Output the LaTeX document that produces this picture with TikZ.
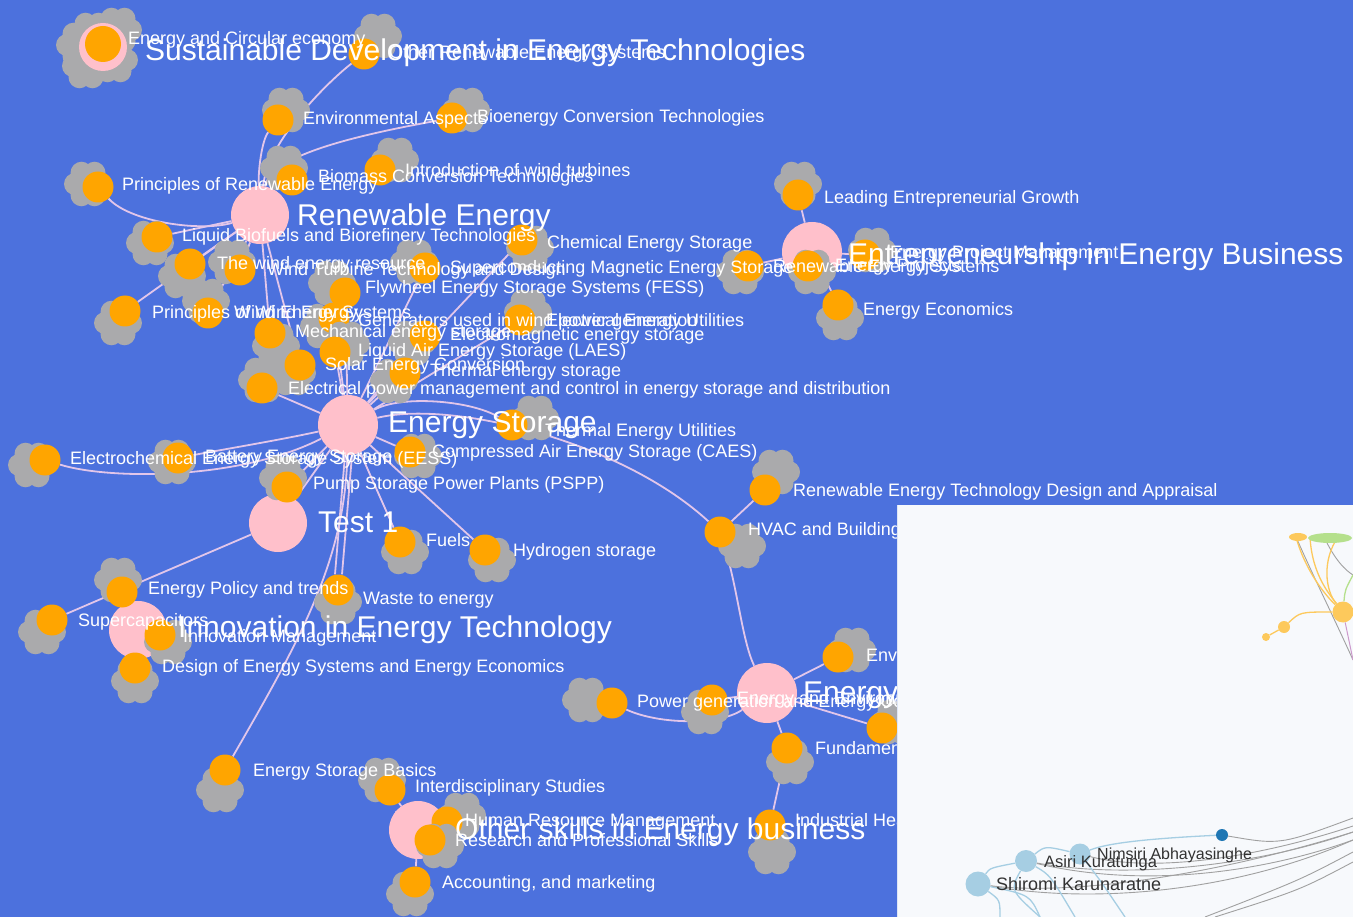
\documentclass[tikz,border=0pt]{standalone}
\usepackage{fontspec}
\setmainfont{Liberation Sans}
\usetikzlibrary{calc}
\pgfdeclarelayer{edges}
\pgfdeclarelayer{labels}
\pgfdeclarelayer{inset}
\pgfsetlayers{edges,main,labels,inset}

\definecolor{bgblue}{RGB}{76,113,221}
\definecolor{hubpink}{RGB}{255,192,203}
\definecolor{leaforange}{RGB}{255,165,0}
\definecolor{cloudgray}{RGB}{170,170,172}
\definecolor{edgecol}{RGB}{226,198,234}
\definecolor{panelbg}{RGB}{247,249,252}
\definecolor{panelline}{RGB}{222,230,246}
\definecolor{softyellow}{RGB}{253,201,92}
\definecolor{softgreen}{RGB}{181,224,140}
\definecolor{lightblue}{RGB}{166,206,227}
\definecolor{darkblue}{RGB}{31,119,180}
\definecolor{linkgray}{RGB}{160,160,160}
\definecolor{nametext}{RGB}{50,50,50}

\tikzset{
  hub/.style={circle, fill=hubpink, minimum size=58pt, inner sep=0pt},
  leafdot/.style={circle, fill=leaforange, minimum size=31pt, inner sep=0pt},
  edge/.style={draw=edgecol, line width=1.8pt},
  lbl/.style={anchor=west, inner sep=0pt, text=white, font=\fontsize{18}{18}\selectfont},
  hublbl/.style={anchor=west, inner sep=0pt, text=white, font=\fontsize{30}{30}\selectfont},
  person/.style={circle, fill=lightblue, inner sep=0pt},
  namelbl/.style={anchor=base west, inner sep=0pt, text=nametext},
  glink/.style={draw=linkgray, line width=0.9pt},
  blink/.style={draw=lightblue, line width=1.3pt},
  ylink/.style={draw=softyellow, line width=1.3pt},
}

% grey flower-shaped cloud behind a topic dot
\newcommand\cloudat[1]{%
  \fill[cloudgray] (#1) circle (14pt);
  \foreach \a in {0,60,...,300}{\fill[cloudgray] ($(#1)+(\a:13pt)$) circle (11pt);}
}
% topic: [label offset]{name}{dot position}{cloud position}{label}
\newcommand\leaf[5][25pt,0pt]{%
  \cloudat{#4}
  \node[leafdot] (#2) at (#3) {};
  \begin{pgfonlayer}{labels}
    \node[lbl] (#2-t) at ($(#2)+(#1)$) {#5};
  \end{pgfonlayer}
}

\begin{document}
\begin{tikzpicture}[x=1pt, y=-1pt]
\useasboundingbox (0,0) rectangle (1353,917);
\begin{pgfonlayer}{edges}
  \fill[bgblue] (0,0) rectangle (1353,917);
\end{pgfonlayer}

% ---------- course hubs ----------
\cloudat{92,35}\cloudat{114,60}\cloudat{86,66}\cloudat{118,30}\cloudat{80,45}
\node[hub, minimum size=48pt] (U) at (103,47) {};
\node[leafdot, minimum size=36pt] (ecirc) at (103,44) {};
\node[hub] (R) at (260,215) {};
\node[hub, minimum size=60pt] (N) at (812,252) {};
\node[hub, minimum size=60pt] (S) at (348,425) {};
\node[hub] (T) at (278,523) {};
\node[hub] (I) at (138,630) {};
\node[hub, minimum size=60pt] (E) at (767,693) {};
\node[hub] (O) at (418,830) {};

\begin{pgfonlayer}{labels}
  \node[lbl] (ecirc-t) at (128,40) {Energy and Circular economy};
  \node[hublbl] (U-t) at (145,53) {Sustainable Development in Energy Technologies};
  \node[hublbl] (R-t) at (297,218) {Renewable Energy};
  \node[hublbl] (N-t) at (848,257) {Entrepreneurship in Energy Business};
  \node[hublbl] (S-t) at (388,425) {Energy Storage};
  \node[hublbl] (T-t) at (318,522) {Test 1};
  \node[hublbl] (I-t) at (178,630) {Innovation in Energy Technology};
  \node[hublbl] (E-t) at (803,695) {Energy Efficiency};
  \node[hublbl] (O-t) at (455,832) {Other skills in Energy business};
\end{pgfonlayer}

% ---------- topics ----------
\leaf{ors}{364,54}{378,36}{Other Renewable Energy Systems}
\leaf{env1}{278,120}{286,110}{Environmental Aspects}
\leaf{env2}{452,118}{466,110}{Bioenergy Conversion Technologies}
\leaf{intro}{380,170}{395,160}{Introduction of wind turbines}
\leaf[26pt,2pt]{biomass}{292,180}{284,168}{Biomass Conversion Technologies}
\leaf[24pt,1pt]{prinRE}{98,187}{88,184}{Principles of Renewable Energy}
\leaf{liquid}{157,237}{150,243}{Liquid Biofuels and Biorefinery Technologies}
\leaf[25pt,-4pt]{chem}{522,240}{530,248}{Chemical Energy Storage}
\leaf[27pt,-1pt]{w1}{190,264}{182,276}{The wind energy resource}
\leaf[27pt,-1pt]{w2}{240,270}{232,262}{Wind Turbine Technology and Design}
\leaf[25pt,-1pt]{w3}{425,268}{414,262}{Superconducting Magnetic Energy Storage}
\leaf[25pt,-2pt]{ent3}{748,266}{740,272}{Renewable Energy Systems}
\leaf[27pt,-1pt]{ent1}{808,266}{812,272}{Energy Projects}
\leaf[25pt,1pt]{ent2}{865,255}{872,250}{Energy Project Management}
\leaf[26pt,-4pt]{lead}{798,195}{798,184}{Leading Entrepreneurial Growth}
\leaf[25pt,-6pt]{econ}{838,305}{840,318}{Energy Economics}
\leaf[20pt,4pt]{fess}{345,293}{332,283}{Flywheel Energy Storage Systems (FESS)}
\leaf[27pt,-3pt]{prin2}{125,311}{118,323}{Principles of Wind Energy}
\leaf[26pt,-1pt]{wes}{208,313}{206,301}{Wind Energy Systems}
\leaf[24pt,-4pt]{gen}{334,318}{324,326}{Generators used in wind power generation}
\leaf[26pt,-2pt]{eutil}{520,320}{528,312}{Electrical Energy Utilities}
\leaf{mech}{270,333}{276,346}{Mechanical energy storage}
\leaf{emag}{425,336}{412,343}{Electromagnetic energy storage}
\leaf[23pt,0pt]{laes}{335,352}{346,344}{Liquid Air Energy Storage (LAES)}
\leaf[25pt,-1pt]{solar}{300,365}{292,373}{Solar Energy Conversion}
\leaf[25pt,1pt]{thermal}{405,373}{394,381}{Thermal energy storage}
\leaf[26pt,-2pt]{epm}{262,388}{262,380}{Electrical power management and control in energy storage and distribution}
\leaf[33pt,-7pt]{tutil}{512,425}{535,418}{Thermal Energy Utilities}
\leaf[22pt,-1pt]{caes}{410,452}{418,456}{Compressed Air Energy Storage (CAES)}
\leaf{elchem}{45,460}{32,465}{Electrochemical Energy Storage System (EESS)}
\leaf[27pt,0pt]{batt}{178,458}{172,462}{Battery Energy Storage}
\leaf[26pt,2pt]{pump}{287,487}{283,478}{Pump Storage Power Plants (PSPP)}
\leaf[28pt,-2pt]{retda}{765,490}{776,472}{Renewable Energy Technology Design and Appraisal}
\leaf[26pt,2pt]{fuels}{400,542}{405,552}{Fuels}
\leaf[28pt,-2pt]{h2}{485,550}{492,560}{Hydrogen storage}
\leaf[28pt,1pt]{hvac}{720,532}{742,546}{HVAC and Building Services}
\leaf[26pt,2pt]{policy}{122,592}{118,580}{Energy Policy and trends}
\leaf[25pt,-10pt]{waste}{338,590}{338,602}{Waste to energy}
\leaf[26pt,-2pt]{supcap}{52,620}{42,632}{Supercapacitors}
\leaf[23pt,-3pt]{innov2}{160,635}{168,642}{Innovation Management}
\leaf[27pt,0pt]{design}{135,668}{135,681}{Design of Energy Systems and Energy Economics}
\leaf{pgen}{612,703}{586,700}{Power generation and Energy Conversion}
\leaf{eande}{712,700}{705,712}{Energy and Environment}
\leaf[28pt,0pt]{envm}{838,657}{852,650}{Environmental Management}
\leaf{e5}{882,728}{895,722}{}
\leaf[28pt,-2pt]{fund}{787,748}{790,762}{Fundamentals of Energy Engineering}
\leaf[28pt,-2pt]{basics}{225,770}{220,790}{Energy Storage Basics}
\leaf[25pt,2pt]{inter}{390,790}{382,780}{Interdisciplinary Studies}
\leaf[18pt,0pt]{hr}{447,822}{462,815}{Human Resource Management}
\leaf{res}{430,840}{440,846}{Research and Professional Skills}
\leaf[25pt,5pt]{heat}{770,825}{772,852}{Industrial Heat Utilization}
\leaf[27pt,-2pt]{acct}{415,882}{410,894}{Accounting, and marketing}

% ---------- links ----------
\begin{pgfonlayer}{edges}
  \draw[edge] (R) .. controls (268,140) and (330,80) .. (ors);
  \draw[edge] (R) .. controls (258,170) and (262,140) .. (env1);
  \draw[edge] (R) .. controls (270,160) and (330,140) .. (env2);
  \draw[edge] (R) .. controls (200,232) and (130,222) .. (prinRE);
  \draw[edge] (R) -- (liquid);
  \draw[edge] (R) -- (w1);
  \draw[edge] (R) -- (w2);
  \draw[edge] (R) -- (prin2);
  \draw[edge] (R) -- (wes);
  \draw[edge] (R) -- (mech);
  \draw[edge] (R) -- (solar);
  \draw[edge] (S) -- (fess);
  \draw[edge] (S) -- (laes);
  \draw[edge] (S) -- (thermal);
  \draw[edge] (S) -- (emag);
  \draw[edge] (S) -- (gen);
  \draw[edge] (S) -- (eutil);
  \draw[edge] (S) -- (chem);
  \draw[edge] (S) -- (w3);
  \draw[edge] (S) -- (epm);
  \draw[edge] (S) .. controls (240,480) and (110,480) .. (elchem);
  \draw[edge] (S) .. controls (280,440) and (220,450) .. (batt);
  \draw[edge] (S) -- (pump);
  \draw[edge] (S) -- (T);
  \draw[edge] (S) -- (fuels);
  \draw[edge] (S) -- (h2);
  \draw[edge] (S) .. controls (400,395) and (470,400) .. (tutil);
  \draw[edge] (S) .. controls (450,400) and (620,440) .. (hvac);
  \draw[edge] (S) -- (caes);
  \draw[edge] ([xshift=-3pt]S.south) -- ([xshift=-3pt]waste.north);
  \draw[edge] ([xshift=4pt]S.south) -- ([xshift=4pt]waste.north);
  \draw[edge] (S) .. controls (345,560) and (300,640) .. (basics);
  \draw[edge] (T) -- (supcap);
  \draw[edge] (I) -- (policy);
  \draw[edge] (I) -- (design);
  \draw[edge] (I) -- (innov2);
  \draw[edge] (hvac) -- (retda);
  \draw[edge] (hvac) .. controls (738,590) and (742,640) .. (E);
  \draw[edge] (E) -- (envm);
  \draw[edge] (E) .. controls (720,725) and (660,725) .. (pgen);
  \draw[edge] (E) -- (eande);
  \draw[edge] (E) -- (fund);
  \draw[edge] (E) -- (e5);
  \draw[edge] (fund) -- (heat);
  \draw[edge] (O) -- (inter);
  \draw[edge] (O) -- (hr);
  \draw[edge] (O) -- (acct);
  \draw[edge] (O) -- (res);
  \draw[edge] (N) -- (lead);
  \draw[edge] (N) -- (econ);
  \draw[edge] (N) -- (ent3);
  \draw[edge] (N) -- (ent1);
  \draw[edge] (N) -- (ent2);
\end{pgfonlayer}

% ---------- people network panel ----------
\begin{pgfonlayer}{inset}
  \fill[panelbg] (897,505) rectangle (1353,917);
  \draw[panelline, line width=1.2pt] (897.6,505) -- (897.6,917);
  \begin{scope}
    \clip (898,505) rectangle (1353,917);
    % upper cluster
    \coordinate (t1) at (1296,537);
    \coordinate (t2) at (1310,537);
    \coordinate (t3) at (1324,537);
    \coordinate (t4) at (1338,537);
    \coordinate (t5) at (1353,575);
    \coordinate (t6) at (1353,660);
    \node[circle, fill=softyellow, minimum size=21pt, inner sep=0pt] (py) at (1343,612) {};
    \node[circle, fill=softyellow, minimum size=12pt, inner sep=0pt] (py2) at (1284,627) {};
    \node[circle, fill=softyellow, minimum size=8pt, inner sep=0pt] (py3) at (1266,637) {};
    \draw[glink] (t1) .. controls (1315,580) and (1335,620) .. (t6);
    \draw[glink] (t3) .. controls (1335,560) and (1345,570) .. (t5);
    \draw[ylink] (t1) .. controls (1305,570) and (1325,595) .. (py);
    \draw[ylink] (t2) .. controls (1312,575) and (1330,595) .. (py);
    \draw[ylink] (t4) .. controls (1322,560) and (1325,590) .. (py);
    \draw[draw=softgreen, line width=1.3pt] (t5) .. controls (1345,590) .. (py);
    \draw[draw=violet!40, line width=1pt] (py) -- (t6);
    \draw[ylink] (py) .. controls (1300,612) .. (py2);
    \draw[ylink] (py2) -- (py3);
    \fill[softgreen] (1330,538) ellipse (22pt and 5pt);
    \fill[softyellow] (1298,537) ellipse (9pt and 4pt);
    % lower cluster
    \node[circle, fill=darkblue, minimum size=12pt, inner sep=0pt] (abd) at (1222,835) {};
    \node[person, minimum size=21pt] (nim) at (1080,854) {};
    \node[person, minimum size=22pt] (asi) at (1026,861) {};
    \node[person, minimum size=25pt] (shi) at (978,884) {};
    \coordinate (r1) at (1353,818);
    \coordinate (r2) at (1353,826);
    \coordinate (r3) at (1353,832);
    \coordinate (r4) at (1353,840);
    \coordinate (r5) at (1353,852);
    \coordinate (r6) at (1353,862);
    \coordinate (b1) at (1000,917);
    \coordinate (b2) at (1040,917);
    \coordinate (b3) at (1075,917);
    \coordinate (b4) at (1125,917);
    \coordinate (b5) at (1205,917);
    \coordinate (b6) at (1215,917);
    \draw[glink] (abd) .. controls (1280,845) .. (r1);
    \draw[glink] (nim) .. controls (1150,872) and (1250,860) .. (r2);
    \draw[glink] (asi) .. controls (1130,880) and (1260,865) .. (r3);
    \draw[glink] (asi) .. controls (1150,890) and (1270,870) .. (r4);
    \draw[glink] (shi) .. controls (1100,905) and (1240,890) .. (r4);
    \draw[glink] (shi) .. controls (1060,895) and (1200,880) .. (r3);
    \draw[glink] (r5) .. controls (1300,880) .. (b5);
    \draw[glink] (r6) .. controls (1300,890) .. (b6);
    \draw[blink] (abd) .. controls (1160,838) and (1110,842) .. (nim);
    \draw[blink] (asi) .. controls (1045,846) .. (nim);
    \draw[blink] (shi) .. controls (990,868) .. (asi);
    \draw[blink] (asi) .. controls (1050,875) .. (b3);
    \draw[blink] (shi) .. controls (1000,900) .. (b1);
    \draw[blink] (shi) .. controls (1030,895) .. (b2);
    \draw[blink] (nim) .. controls (1100,880) .. (b4);
    \draw[blink] (asi) .. controls (1010,890) .. (b2);
    \node[namelbl, font=\fontsize{16.5}{16.5}\selectfont] (asi-t) at (1044,867) {Asiri Kuratunga};
    \node[namelbl, font=\fontsize{16}{16}\selectfont] (nim-t) at (1097,859) {Nimsiri Abhayasinghe};
    \node[namelbl, font=\fontsize{18}{18}\selectfont] (shi-t) at (996,890) {Shiromi Karunaratne};
  \end{scope}
\end{pgfonlayer}
\end{tikzpicture}
\end{document}
